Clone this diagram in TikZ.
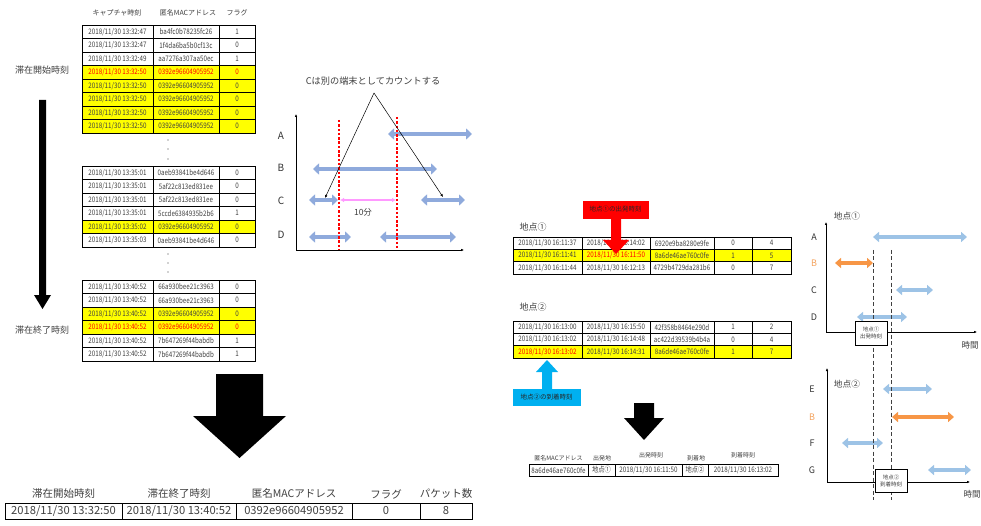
\documentclass[tikz,border=0pt]{standalone}
\usepackage{fontspec}
\setmainfont{Noto Sans CJK JP}
\newfontfamily\jpc[FakeStretch=0.82]{Noto Sans CJK JP}
\usetikzlibrary{arrows.meta}
\definecolor{txt}{HTML}{404040}
\definecolor{hl}{HTML}{FFFF00}
\definecolor{midblue}{HTML}{8FAADC}
\definecolor{ltblue}{HTML}{9DC3E6}
\definecolor{orng}{HTML}{F79646}
\definecolor{orlab}{HTML}{F4A460}
\definecolor{cyanbox}{HTML}{00B0F0}
\definecolor{pinkarr}{HTML}{FF99FF}
\definecolor{redbox}{HTML}{FF0000}
\definecolor{dashred}{HTML}{FF0000}
\tikzset{
 cell/.style={draw=black,line width=0.5pt,inner sep=0pt,outer sep=0pt,font=\jpc\fontsize{7.6}{8}\selectfont,text=txt},
 lcell/.style={cell,minimum height=13.5pt},
 rcell/.style={cell,minimum height=12.3pt},
 fcell/.style={cell,minimum height=12pt},
 scell/.style={draw=black,line width=0.7pt,inner sep=0pt,outer sep=0pt,minimum height=16pt,font=\fontsize{11.2}{12}\selectfont,text=txt},
 hdr/.style={inner sep=0pt,text=txt,font=\fontsize{7}{8}\selectfont},
 shdr/.style={inner sep=0pt,text=txt,font=\fontsize{10.5}{11}\selectfont},
 fhdr/.style={inner sep=0pt,text=txt,font=\fontsize{6}{7}\selectfont},
 lbl/.style={inner sep=0pt,text=txt,font=\fontsize{9}{10}\selectfont},
 axlbl/.style={inner sep=0pt,text=black!80,font=\fontsize{10}{11}\selectfont},
 axis/.style={line width=0.6pt,-{Latex[length=3pt,width=2.6pt]}},
 thinarr/.style={line width=0.5pt,-{Latex[length=3pt,width=2.6pt]}},
 barr/.style={line width=4.8pt,midblue,{Triangle[width=11pt,length=6pt]}-{Triangle[width=11pt,length=6pt]}},
 lbarr/.style={line width=4.2pt,ltblue,{Triangle[width=10pt,length=6pt]}-{Triangle[width=10pt,length=6pt]}},
 obarr/.style={lbarr,orng},
 vdash/.style={line width=0.9pt,black!75,dash pattern=on 4pt off 2.5pt},
 rdash/.style={line width=1.1pt,draw=dashred,dash pattern=on 2.5pt off 1.8pt},
 tbox/.style={draw=black,line width=0.7pt,fill=white,inner sep=0pt,align=center,text=txt,font=\fontsize{5.5}{7}\selectfont},
 dotm/.style={fill=txt,circle,inner sep=0pt,minimum size=1.2pt}
}
\newcommand\lrow[7]{%
 \node[lcell,minimum width=71pt,fill=#3,text=#4] (#1a) at (117.5,{#2+6.75}) {#5};
 \node[lcell,minimum width=66pt,fill=#3,text=#4] (#1b) at (186,{#2+6.75}) {#6};
 \node[lcell,minimum width=36pt,fill=#3,text=#4] (#1c) at (237,{#2+6.75}) {#7};}
\newcommand\rrow[8]{%
 \node[rcell,minimum width=69pt,fill=#3] (#1a) at (547.5,{#2+6.15}) {#4};
 \node[rcell,minimum width=68pt,fill=#3] (#1b) at (616,{#2+6.15}) {#5};
 \node[rcell,minimum width=64pt,fill=#3] (#1c) at (682,{#2+6.15}) {#6};
 \node[rcell,minimum width=38pt,fill=#3] (#1d) at (733,{#2+6.15}) {#7};
 \node[rcell,minimum width=39pt,fill=#3] (#1e) at (771.5,{#2+6.15}) {#8};}
\begin{document}
\begin{tikzpicture}[x=1pt,y=-1pt]
\useasboundingbox (0,0) rectangle (981,526);
\fill[white] (0,0) rectangle (981,526);
% ---------- left tables ----------
\node[hdr] (h1) at (117,13) {キャプチャ時刻};
\node[hdr] (h2) at (188,13) {匿名MACアドレス};
\node[hdr] (h3) at (237,13) {フラグ};
\lrow{ta}{25}{white}{txt}{2018/11/30 13:32:47}{ba4fc0b78235fc26}{1}
\lrow{tb}{38.5}{white}{txt}{2018/11/30 13:32:47}{1f4da6ba5b0cf13c}{0}
\lrow{tc}{52}{white}{txt}{2018/11/30 13:32:49}{aa7276a307aa50ec}{1}
\lrow{td}{65.5}{hl}{red}{2018/11/30 13:32:50}{0392e96604905952}{0}
\lrow{te}{79}{hl}{txt}{2018/11/30 13:32:50}{0392e96604905952}{0}
\lrow{tf}{92.5}{hl}{txt}{2018/11/30 13:32:50}{0392e96604905952}{0}
\lrow{tg}{106}{hl}{txt}{2018/11/30 13:32:50}{0392e96604905952}{0}
\lrow{th}{119.5}{hl}{txt}{2018/11/30 13:32:50}{0392e96604905952}{0}
\node[dotm] (d1) at (168,140) {};
\node[dotm] (d2) at (168,149) {};
\node[dotm] (d3) at (168,159) {};
\lrow{ma}{166}{white}{txt}{2018/11/30 13:35:01}{0aeb93841be4d646}{0}
\lrow{mb}{179.5}{white}{txt}{2018/11/30 13:35:01}{5af22c813ed831ee}{0}
\lrow{mc}{193}{white}{txt}{2018/11/30 13:35:01}{5af22c813ed831ee}{0}
\lrow{md}{206.5}{white}{txt}{2018/11/30 13:35:01}{5ccde6384935b2b6}{1}
\lrow{me}{220}{hl}{txt}{2018/11/30 13:35:02}{0392e96604905952}{0}
\lrow{mf}{233.5}{white}{txt}{2018/11/30 13:35:03}{0aeb93841be4d646}{0}
\node[dotm] (d4) at (168,254) {};
\node[dotm] (d5) at (168,263) {};
\node[dotm] (d6) at (168,272) {};
\lrow{ba}{280}{white}{txt}{2018/11/30 13:40:52}{66a930bee21c3963}{0}
\lrow{bb}{293.5}{white}{txt}{2018/11/30 13:40:52}{66a930bee21c3963}{0}
\lrow{bc}{307}{hl}{txt}{2018/11/30 13:40:52}{0392e96604905952}{0}
\lrow{bd}{320.5}{hl}{red}{2018/11/30 13:40:52}{0392e96604905952}{0}
\lrow{be}{334}{white}{txt}{2018/11/30 13:40:52}{7b647269f44babdb}{1}
\lrow{bf}{347.5}{white}{txt}{2018/11/30 13:40:52}{7b647269f44babdb}{1}
\node[lbl] (start) at (42,70) {滞在開始時刻};
\node[lbl] (end) at (42,330) {滞在終了時刻};
\fill[black] (39,100) -- (46,100) -- (46,295) -- (51,295) -- (42.5,309) -- (34,295) -- (39,295) -- cycle;
% big arrow
\fill[black] (216,374) -- (263,374) -- (263,416) -- (286,416) -- (239.5,458) -- (193,416) -- (216,416) -- cycle;
% ---------- summary table ----------
\node[shdr] (s1) at (63.5,494) {滞在開始時刻};
\node[shdr] (s2) at (179,494) {滞在終了時刻};
\node[shdr] (s3) at (294,494) {匿名MACアドレス};
\node[shdr] (s4) at (386,494) {フラグ};
\node[shdr] (s5) at (446,494) {パケット数};
\node[scell,minimum width=117pt] (sc1) at (63.5,511) {2018/11/30 13:32:50};
\node[scell,minimum width=114pt] (sc2) at (179,511) {2018/11/30 13:40:52};
\node[scell,minimum width=116pt] (sc3) at (294,511) {0392e96604905952};
\node[scell,minimum width=68pt] (sc4) at (386,511) {0};
\node[scell,minimum width=52pt] (sc5) at (446,511) {8};
% ---------- middle chart ----------
\coordinate (o1) at (296,250);
\coordinate (y1) at (296,114);
\coordinate (x1) at (464,250);
\draw[axis] (o1) -- (y1);
\draw[axis] (o1) -- (x1);
\node[axlbl] (lA) at (281,136) {A};
\node[axlbl] (lB) at (281,168) {B};
\node[axlbl] (lC) at (281,201) {C};
\node[axlbl] (lD) at (281,235) {D};
\draw[barr] (388,134) -- (472,134);
\draw[barr] (313,169) -- (437,169);
\draw[barr] (309,200) -- (338,200);
\draw[barr] (421,200) -- (465,200);
\draw[barr] (309,237) -- (351,237);
\draw[barr] (380,237) -- (456,237);
\draw[rdash] (339,120) -- (339,250);
\draw[rdash] (397,117) -- (397,250);
\draw[pinkarr,line width=1.2pt,{Latex[length=4pt,width=4.5pt]}-{Latex[length=4pt,width=4.5pt]}] (340,200) -- (396,200);
\node[inner sep=0pt,text=txt,font=\fontsize{8.5}{9}\selectfont] (ten) at (363,212) {10分};
\node[inner sep=0pt,text=txt,font=\fontsize{9.2}{10}\selectfont] (ctitle) at (373,81) {Cは別の端末としてカウントする};
\coordinate (apex) at (374,93);
\coordinate (cl) at (325,198);
\coordinate (cr) at (443,197);
\draw[thinarr] (apex) -- (cl);
\draw[thinarr] (apex) -- (cr);
% ---------- right tables ----------
\node[lbl] (p1) at (533,227) {地点①};
\rrow{ra}{237}{white}{2018/11/30 16:11:37}{2018/11/30 16:14:02}{6920e9ba8280e9fe}{0}{4}
\rrow{rb}{249.3}{hl}{2018/11/30 16:11:41}{\textcolor{red}{2018/11/30 16:11:50}}{8a6de46ae760c0fe}{1}{5}
\rrow{rc}{261.6}{white}{2018/11/30 16:11:44}{2018/11/30 16:12:13}{4729b4729da281b6}{0}{7}
\node[draw=redbox,fill=redbox,minimum width=65pt,minimum height=17pt,inner sep=0pt,text=black!85,font=\fontsize{6.5}{7}\selectfont] (rcall) at (615.5,209.5) {地点①の出発時刻};
\fill[redbox] (611,218) -- (621,218) -- (621,240) -- (629,240) -- (616,254) -- (603,240) -- (611,240) -- cycle;
\node[lbl] (p2) at (533,307) {地点②};
\rrow{sa}{321}{white}{2018/11/30 16:13:00}{2018/11/30 16:15:50}{42f358b8464e290d}{1}{2}
\rrow{sb}{333.3}{white}{2018/11/30 16:13:02}{2018/11/30 16:14:48}{ac422d39539b4b4a}{0}{4}
\rrow{sc}{345.6}{hl}{\textcolor{red}{2018/11/30 16:13:02}}{2018/11/30 16:14:31}{8a6de46ae760c0fe}{1}{7}
\fill[cyanbox] (547,360) -- (558,372) -- (552,372) -- (552,389) -- (542,389) -- (542,372) -- (536,372) -- cycle;
\node[draw=cyanbox,fill=cyanbox,minimum width=67pt,minimum height=16pt,inner sep=0pt,text=black!85,font=\fontsize{6.5}{7}\selectfont] (bcall) at (546.5,397) {地点②の到着時刻};
\fill[black] (634,403) -- (654,403) -- (654,418) -- (664,418) -- (644,440) -- (624,418) -- (634,418) -- cycle;
% final table
\node[fhdr] (f1) at (558.5,458) {匿名MACアドレス};
\node[fhdr] (f2) at (602,458) {出発地};
\node[fhdr] (f3) at (651,455) {出発時刻};
\node[fhdr] (f4) at (696,458) {到着地};
\node[fhdr] (f5) at (743,455) {到着時刻};
\node[fcell,minimum width=59pt] (fc1) at (558.5,470) {8a6de46ae760c0fe};
\node[fcell,minimum width=27pt] (fc2) at (601.5,470) {地点①};
\node[fcell,minimum width=67pt] (fc3) at (648.5,470) {2018/11/30 16:11:50};
\node[fcell,minimum width=26pt] (fc4) at (695,470) {地点②};
\node[fcell,minimum width=70pt] (fc5) at (743,470) {2018/11/30 16:13:02};
\draw[line width=1pt] (fc1.north west) rectangle (fc5.south east);
% ---------- right charts ----------
\coordinate (o2) at (826,332);
\coordinate (y2) at (826,222);
\coordinate (x2) at (977,332);
\draw[axis] (o2) -- (y2);
\draw[axis] (o2) -- (x2);
\node[lbl,font=\fontsize{8.7}{9}\selectfont] (c1t) at (847,216) {地点①};
\node[lbl,font=\fontsize{8.5}{9}\selectfont] (c1x) at (970,345) {時間};
\node[axlbl,font=\fontsize{9}{10}\selectfont] (rA) at (814,237) {A};
\node[axlbl,font=\fontsize{9}{10}\selectfont,text=orlab] (rB) at (814,263) {B};
\node[axlbl,font=\fontsize{9}{10}\selectfont] (rC) at (814,290) {C};
\node[axlbl,font=\fontsize{9}{10}\selectfont] (rD) at (814,317) {D};
\draw[lbarr] (873,237) -- (967,237);
\draw[obarr] (835,263) -- (873,263);
\draw[lbarr] (896,290) -- (933,290);
\draw[lbarr] (857,317) -- (907,317);
\coordinate (o3) at (827,482);
\coordinate (y3) at (827,368);
\coordinate (x3) at (970,482);
\draw[axis] (o3) -- (y3);
\draw[axis] (o3) -- (x3);
\node[lbl,font=\fontsize{8.7}{9}\selectfont] (c2t) at (847,384) {地点②};
\node[lbl,font=\fontsize{8.5}{9}\selectfont] (c2x) at (972,494) {時間};
\node[axlbl,font=\fontsize{9}{10}\selectfont] (rE) at (812,389) {E};
\node[axlbl,font=\fontsize{9}{10}\selectfont,text=orlab] (rB2) at (812,417) {B};
\node[axlbl,font=\fontsize{9}{10}\selectfont] (rF) at (812,443) {F};
\node[axlbl,font=\fontsize{9}{10}\selectfont] (rG) at (812,470) {G};
\draw[lbarr] (883,389) -- (932,389);
\draw[obarr] (892,417) -- (954,417);
\draw[lbarr] (842,443) -- (883,443);
\draw[lbarr] (928,470) -- (971,470);
\draw[vdash] (873,250) -- (873,500);
\draw[vdash] (891,250) -- (891,500);
\node[tbox,minimum width=32pt,minimum height=24pt] (box1) at (871,333) {地点①\\出発時刻};
\node[tbox,minimum width=32pt,minimum height=23pt] (box2) at (891,480.5) {地点②\\到着時刻};
\end{tikzpicture}
\end{document}
